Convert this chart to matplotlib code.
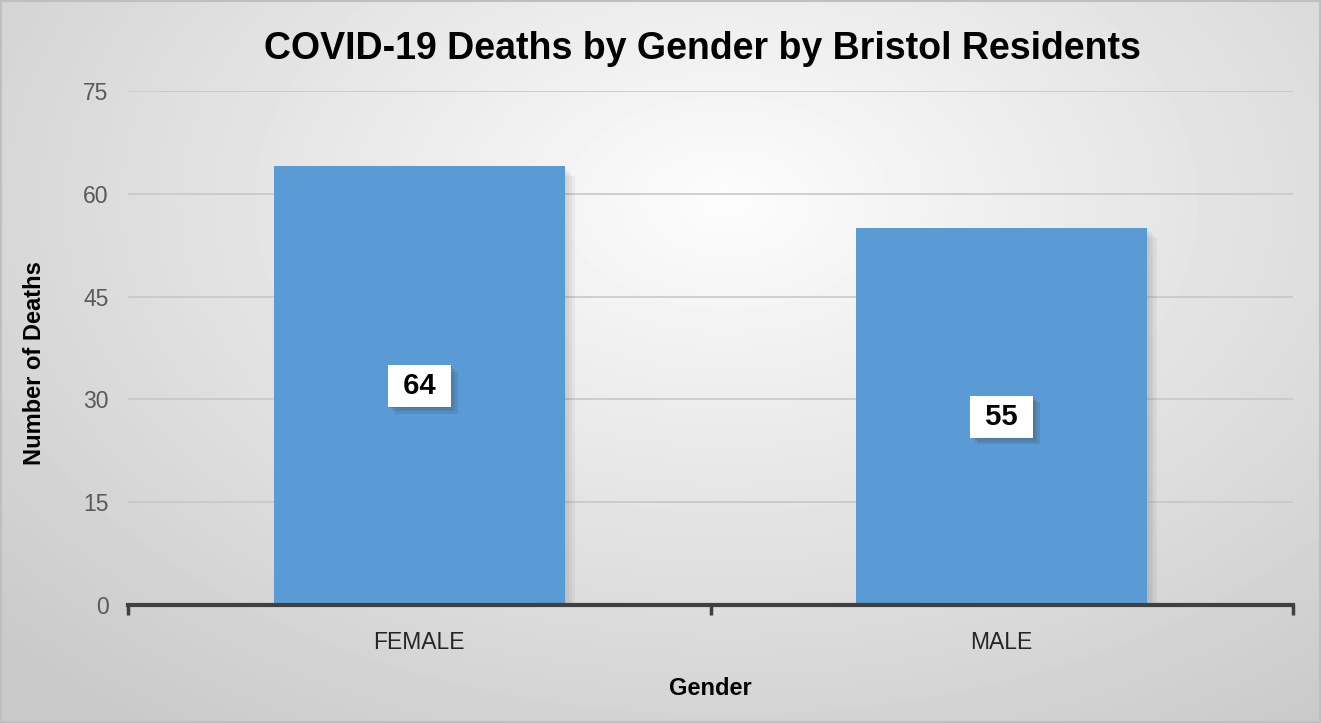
import numpy as np
import matplotlib
matplotlib.use("Agg")
import matplotlib.pyplot as plt
import matplotlib.patheffects as pe

plt.rcParams['font.family'] = ['Liberation Sans', 'DejaVu Sans']

# data
genders = ["FEMALE", "MALE"]
deaths = [64, 55]
yticks = [0, 15, 30, 45, 60, 75]

fig = plt.figure(figsize=(13.21, 7.23), dpi=100)

# radial gradient background
bg = fig.add_axes([0, 0, 1, 1], zorder=-10)
gx, gy = np.meshgrid(np.linspace(0, 1, 400), np.linspace(0, 1, 240))
r = np.sqrt(((gx - 0.55) / 0.75) ** 2 + ((gy - 0.72) / 0.9) ** 2)
r = np.clip(r, 0, 1)
shade = 0.99 - 0.20 * r
bg.imshow(shade, cmap='gray', vmin=0, vmax=1, origin='lower',
          extent=[0, 1, 0, 1], aspect='auto', interpolation='bilinear')
bg.set_xlim(0, 1)
bg.set_ylim(0, 1)
bg.axis('off')
fig.patches.append(plt.Rectangle((0.001, 0.001), 0.998, 0.997, transform=fig.transFigure,
                                 fill=False, edgecolor='#bfbfbf', linewidth=1.5))

ax = fig.add_axes([128 / 1321, 1 - 605 / 723, (1293 - 128) / 1321, (605 - 91) / 723])
ax.set_facecolor('none')

# soft shadow: several faint offset layers
soft = [pe.SimplePatchShadow(offset=(d, -d), shadow_rgbFace='#606060', alpha=0.07)
        for d in (7, 5, 3, 1)]

x = np.arange(len(genders))
bars = ax.bar(x, deaths, width=0.5, color='#5b9bd5', zorder=3)
for b in bars:
    b.set_path_effects(soft + [pe.Normal()])

for xi, v in zip(x, deaths):
    t = ax.text(xi, v / 2, ' %d ' % v, ha='center', va='center', fontsize=21, fontweight='bold',
                color='black', zorder=5,
                bbox=dict(boxstyle='square,pad=0.24', facecolor='white', edgecolor='none'))
    t.get_bbox_patch().set_path_effects(
        [pe.SimplePatchShadow(offset=(d, -d), shadow_rgbFace='#303030', alpha=0.12)
         for d in (5, 3, 1)] + [pe.Normal()])

ax.set_xlim(-0.5, 1.5)
ax.set_ylim(0, 75)
ax.set_yticks(yticks)
ax.yaxis.grid(True, color='#c8c8c8', linewidth=1.2, zorder=0)
ax.set_axisbelow(True)
ax.tick_params(axis='y', length=0, labelsize=16.5, labelcolor='#595959', pad=14)

ax.set_xticks([-0.5, 0.5, 1.5])
ax.set_xticklabels([])
ax.set_xticks(x, minor=True)
ax.set_xticklabels(genders, minor=True)
ax.tick_params(axis='x', which='major', direction='out', length=7, width=2.5, color='#404040')
ax.tick_params(axis='x', which='minor', length=0, labelsize=16.5, labelcolor='#262626', pad=19)

for s in ['top', 'right', 'left']:
    ax.spines[s].set_visible(False)
ax.spines['bottom'].set_color('#404040')
ax.spines['bottom'].set_linewidth(3)
ax.spines['bottom'].set_zorder(4)

ax.set_xlabel('Gender', fontsize=17, fontweight='bold', labelpad=16)
ax.set_ylabel('Number of Deaths', fontsize=17, fontweight='bold')
ax.yaxis.set_label_coords(-0.0705, 0.47)

fig.text(0.532, 0.932, 'COVID-19 Deaths by Gender by Bristol Residents', ha='center', va='center',
         fontsize=27, fontweight='bold', color='black')

fig.savefig('out.png', dpi=100)
